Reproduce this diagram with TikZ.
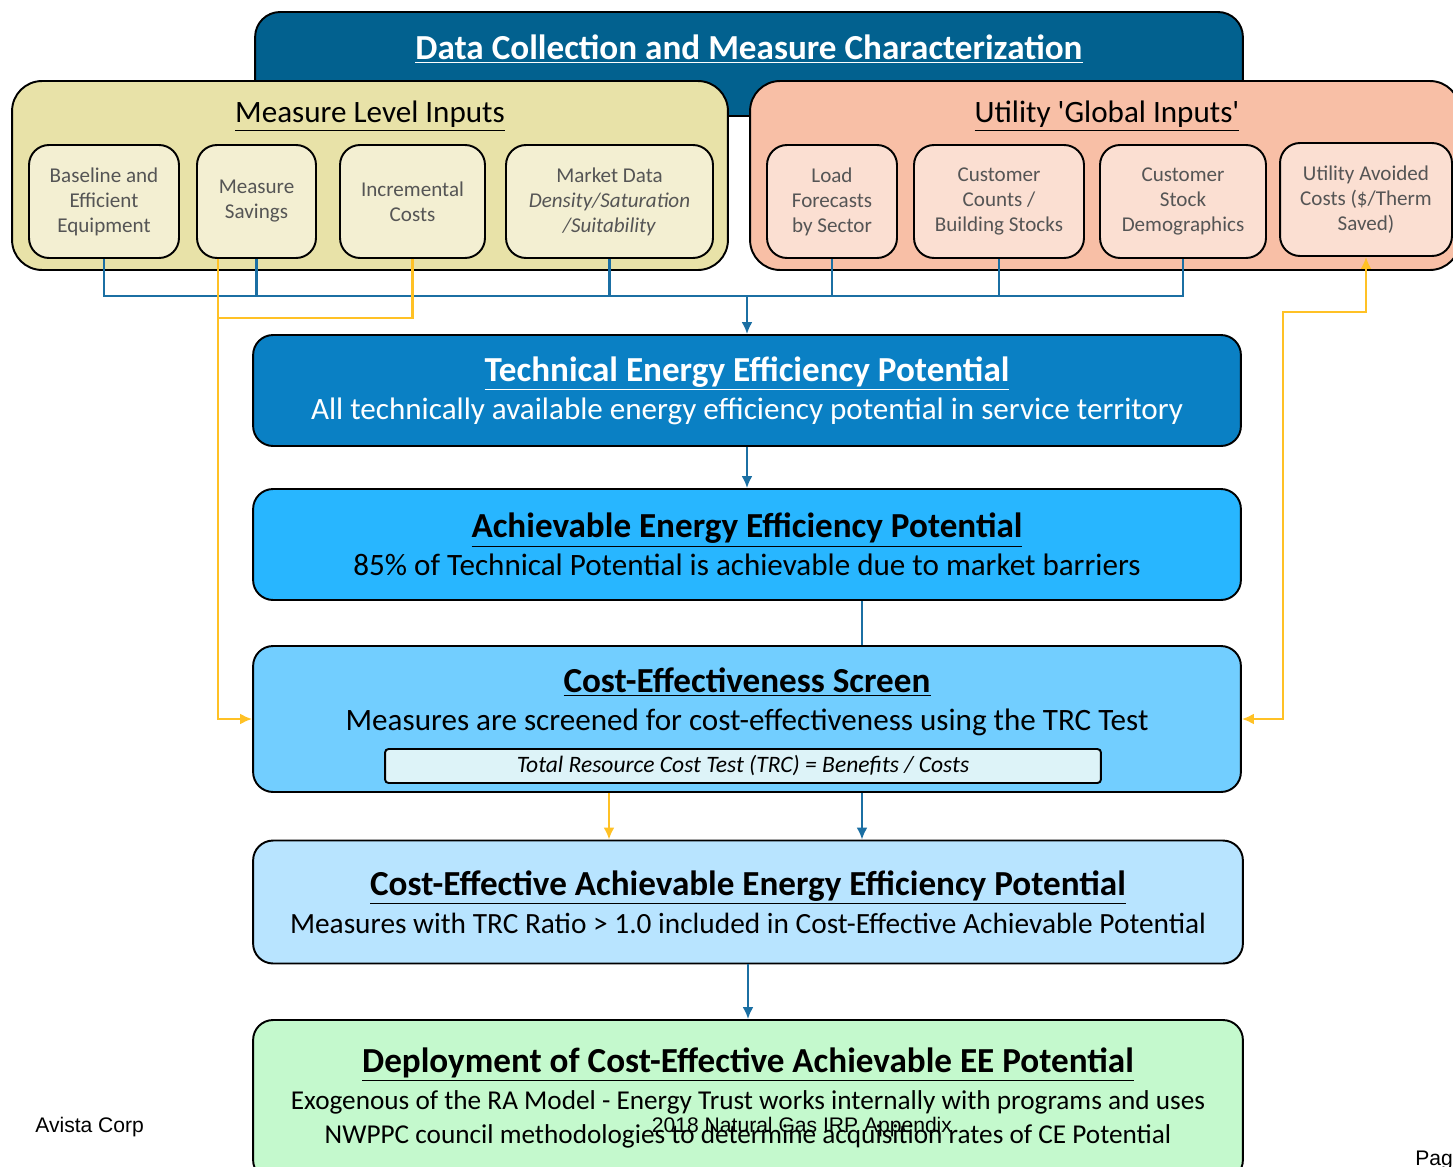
\documentclass[tikz,border=0pt]{standalone}
\usepackage{fontspec}
\setmainfont{Carlito}
\newfontfamily\footfont{Liberation Sans}
\usetikzlibrary{arrows.meta,positioning}

\definecolor{topblue}{RGB}{2,97,143}
\definecolor{techblue}{RGB}{10,128,196}
\definecolor{achblue}{RGB}{40,182,255}
\definecolor{scrblue}{RGB}{114,206,255}
\definecolor{ceblue}{RGB}{184,228,255}
\definecolor{depgreen}{RGB}{196,249,205}
\definecolor{khaki}{RGB}{232,226,168}
\definecolor{khakilt}{RGB}{243,239,210}
\definecolor{salmon}{RGB}{248,191,166}
\definecolor{salmonlt}{RGB}{251,223,210}
\definecolor{trcfill}{RGB}{221,243,248}
\definecolor{linkblue}{RGB}{27,111,163}
\definecolor{linkgold}{RGB}{255,193,37}
\definecolor{greytxt}{RGB}{85,85,85}

\begin{document}
\begin{tikzpicture}[x=0.02cm,y=-0.02cm,>={Latex[length=2.4mm,width=2.2mm]},
 group/.style={draw,line width=1.1pt,rounded corners=0.6cm,minimum height=3.78cm,inner sep=0pt},
 inbox/.style={draw,line width=1.1pt,rounded corners=0.4cm,minimum height=2.26cm,align=center,inner sep=0pt,text=greytxt,font=\fontsize{12}{14.2}\selectfont},
 stage/.style={draw,line width=1.1pt,rounded corners=0.4cm,minimum width=19.76cm,align=center,inner sep=0pt},
 title/.style={align=center,font=\fontsize{20}{21.5}\selectfont\bfseries},
 bus/.style={draw=linkblue,line width=1.3pt},
 gold/.style={draw=linkgold,line width=1.3pt}]
\path[use as bounding box,clip] (0,0) rectangle (1453,1166);

% data collection header and the two input groups
\node[draw,line width=1.1pt,fill=topblue,rounded corners=0.5cm,minimum width=19.76cm,minimum height=2.08cm,inner sep=0pt] (top) at (749,64) {};
\node[title,text=white] (toptxt) at (749,49) {\underline{Data Collection and Measure Characterization}};
\node[group,fill=khaki,minimum width=14.32cm] (meas) at (370,175.5) {};
\node[group,fill=salmon,minimum width=14.2cm] (util) at (1105,175.5) {};
\node[font=\fontsize{17.7}{20}\selectfont] (meastxt) at (370,116) {\underline{Measure Level Inputs}};
\node[font=\fontsize{17.7}{20}\selectfont] (utiltxt) at (1107,116) {\underline{Utility \textquotesingle Global Inputs\textquotesingle}};

\node[inbox,fill=khakilt,minimum width=3cm] (base) at (104,201.5) {Baseline and\\Efficient\\Equipment};
\node[inbox,fill=khakilt,minimum width=2.38cm] (save) at (256.5,201.5) {Measure\\Savings};
\node[inbox,fill=khakilt,minimum width=2.9cm] (incr) at (412.5,201.5) {Incremental\\Costs};
\node[inbox,fill=khakilt,minimum width=4.14cm] (mkt) at (609.5,201.5) {Market Data\\\textit{Density/Saturation}\\\textit{/Suitability}};
\node[inbox,fill=salmonlt,minimum width=2.6cm] (load) at (832,201.5) {Load\\Forecasts\\by Sector};
\node[inbox,fill=salmonlt,minimum width=3.4cm] (cnt) at (999,201.5) {Customer\\Counts /\\Building Stocks};
\node[inbox,fill=salmonlt,minimum width=3.32cm] (stock) at (1183,201.5) {Customer\\Stock\\Demographics};
\node[inbox,fill=salmonlt,minimum width=3.44cm] (avoid) at (1366,199.5) {Utility Avoided\\Costs (\$/Therm\\Saved)};

% potential stages
\node[stage,fill=techblue,minimum height=2.22cm,text=white,font=\fontsize{20}{21.5}\selectfont] (tech) at (747,390.5)
 {\textbf{\underline{Technical Energy Efficiency Potential}}\\{\fontsize{17.7}{19}\selectfont All technically available energy efficiency potential in service territory}};
\node[stage,fill=achblue,minimum height=2.22cm,font=\fontsize{20}{21.5}\selectfont] (ach) at (747,544.5)
 {\textbf{\underline{Achievable Energy Efficiency Potential}}\\{\fontsize{17.7}{19}\selectfont 85\% of Technical Potential is achievable due to market barriers}};
\node[stage,fill=scrblue,minimum height=2.92cm] (scr) at (747,719) {};
\node[font=\fontsize{20}{21.5}\selectfont,align=center] (scrtxt) at (747,702)
 {\textbf{\underline{Cost-Effectiveness Screen}}\\{\fontsize{17.7}{19}\selectfont Measures are screened for cost-effectiveness using the TRC Test}};
\node[draw,line width=1.1pt,fill=trcfill,rounded corners=2pt,minimum width=14.32cm,minimum height=0.68cm,inner sep=0pt,font=\fontsize{13.4}{14}\selectfont\itshape] (trc) at (743,766)
 {Total Resource Cost Test (TRC) = Benefits / Costs};
\node[stage,fill=ceblue,minimum width=19.8cm,minimum height=2.46cm,font=\fontsize{20}{21.5}\selectfont] (ceach) at (748,902)
 {\textbf{\underline{Cost-Effective Achievable Energy Efficiency Potential}}\\{\fontsize{16.7}{19}\selectfont Measures with TRC Ratio > 1.0 included in Cost-Effective Achievable Potential}};
\node[stage,fill=depgreen,minimum width=19.8cm,minimum height=3.2cm] (dep) at (748,1100) {};
\node[font=\fontsize{15.5}{19.3}\selectfont,align=center] (deptxt) at (748,1098)
 {{\fontsize{20}{21.5}\selectfont\textbf{\underline{Deployment of Cost-Effective Achievable EE Potential}}}\\[2pt]
  Exogenous of the RA Model - Energy Trust works internally with programs and uses\\
  NWPPC council methodologies to determine acquisition rates of CE Potential};

% connectors
\coordinate (busy) at (0,296);
\coordinate (gl) at (218,318);
\coordinate (gr) at (1283,312);
\coordinate (gm) at (609,0);
\coordinate (mid) at (862,0);
\draw[bus] (base.south) -- (base.south |- busy) -- (stock.south |- busy) -- (stock.south);
\foreach \n in {save,mkt,load,cnt}
  \draw[bus] (\n.south) -- (\n.south |- busy);
\draw[bus,->] (tech.north |- busy) -- (tech.north);
\draw[gold] (incr.south) |- (gl);
\draw[gold,->] (save.south -| gl) |- (scr.west);
\draw[gold,<->] (scr.east) -| (gr) -| (avoid.south);
\draw[bus,->] (tech) -- (ach);
\draw[bus] (ach.south -| mid) -- (scr.north -| mid);
\draw[gold,->] (scr.south -| gm) -- (ceach.north -| gm);
\draw[bus,->] (scr.south -| mid) -- (ceach.north -| mid);
\draw[bus,->] (ceach) -- (dep);

% page footer
\node[anchor=west,font=\footfont\fontsize{12}{14}\selectfont,inner sep=0pt] (avista) at (35,1127) {Avista Corp};
\node[font=\footfont\fontsize{12}{14}\selectfont,inner sep=0pt] (appx) at (802,1127) {2018 Natural Gas IRP Appendix};
\node[anchor=west,font=\footfont\fontsize{12}{14}\selectfont,inner sep=0pt] (page) at (1415,1160) {Page};
\end{tikzpicture}
\end{document}
